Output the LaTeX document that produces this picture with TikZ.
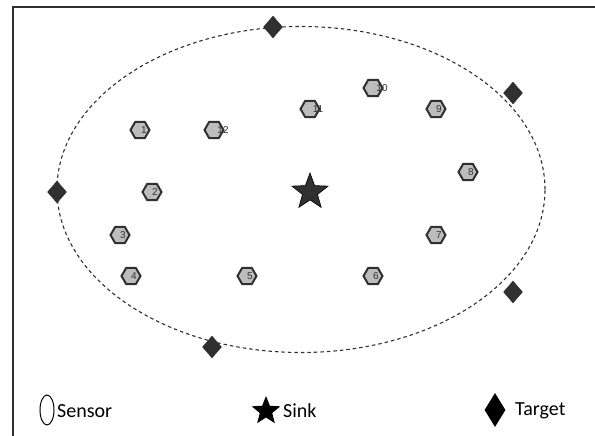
\documentclass[tikz,border=0pt]{standalone}
\usepackage{fontspec}
\setmainfont{Carlito}
\setsansfont{Liberation Sans}
\usetikzlibrary{shapes.geometric}
\definecolor{dk}{HTML}{303030}
\definecolor{sg}{HTML}{BDBDBD}
\tikzset{
  sensor/.style={regular polygon, regular polygon sides=6, minimum size=19pt, inner sep=0pt,
    draw=dk, line width=2pt, fill=sg},
  target/.style={diamond, minimum width=19pt, minimum height=22pt, inner sep=0pt, fill=dk, draw=dk},
  sinkstar/.style={star, star points=5, star point ratio=2.4, minimum size=38pt, inner sep=0pt, fill=dk, draw=black, line width=0.6pt},
  lab/.style={font=\sffamily\fontsize{10}{10}\selectfont, text=black!80},
  legtext/.style={font=\fontsize{20}{20}\selectfont, anchor=west, inner sep=0pt},
}
\begin{document}
\begin{tikzpicture}[x=1pt,y=-1pt]
\useasboundingbox (0,0) rectangle (595,436);
\fill[white] (0,0) rectangle (595,436);
% frame
\draw[line width=2pt, dk] (13,436) -- (13,7) -- (595,7);
% field ellipse
\node[ellipse, draw=dk, dash pattern=on 3.5pt off 3pt, line width=1.1pt, minimum width=488pt, minimum height=326pt, inner sep=0pt] (field) at (301,189.5) {};
% sink
\node[sinkstar, label={[lab, xshift=3pt]center:S}] (sink) at (310,192) {};
% targets
\node[target, label={[lab, xshift=2pt]center:1}] (t1) at (57,192) {};
\node[target, label={[lab, xshift=2pt]center:2}] (t2) at (212,347) {};
\node[target, label={[lab, xshift=2pt]center:3}] (t3) at (513,292) {};
\node[target, label={[lab, xshift=2pt]center:4}] (t4) at (513,93) {};
\node[target, label={[lab, xshift=2pt]center:5}] (t5) at (273,27) {};
% sensors
\node[sensor, label={[lab, xshift=4pt]center:1}] (s1) at (140,130) {};
\node[sensor, label={[lab, xshift=9pt]center:12}] (s12) at (214,130) {};
\node[sensor, label={[lab, xshift=8pt]center:11}] (s11) at (310,109) {};
\node[sensor, label={[lab, xshift=9pt]center:10}] (s10) at (373,88) {};
\node[sensor, label={[lab, xshift=3pt]center:9}] (s9) at (436,109) {};
\node[sensor, label={[lab, xshift=3pt]center:8}] (s8) at (468,172) {};
\node[sensor, label={[lab, xshift=3pt]center:2}] (s2) at (152,192) {};
\node[sensor, label={[lab, xshift=3pt]center:3}] (s3) at (120,235) {};
\node[sensor, label={[lab, xshift=3pt]center:7}] (s7) at (436,235) {};
\node[sensor, label={[lab, xshift=3pt]center:4}] (s4) at (131,276) {};
\node[sensor, label={[lab, xshift=3pt]center:5}] (s5) at (247,276) {};
\node[sensor, label={[lab, xshift=3pt]center:6}] (s6) at (373,276) {};
% legend
\node[ellipse, draw=black, line width=1pt, minimum width=14pt, minimum height=30pt, inner sep=0pt] (lsensor) at (47,410) {};
\node[legtext] (tsensor) at (57,411) {Sensor};
\node[star, star points=5, star point ratio=2.3, minimum size=30pt, inner sep=0pt, fill=black] (lsink) at (266,411) {};
\node[legtext] (tsink) at (283,411) {Sink};
\node[diamond, fill=black, minimum width=21pt, minimum height=34pt, inner sep=0pt] (ltarget) at (495,410) {};
\node[legtext] (ttarget) at (515,411) {Target};
\end{tikzpicture}
\end{document}
